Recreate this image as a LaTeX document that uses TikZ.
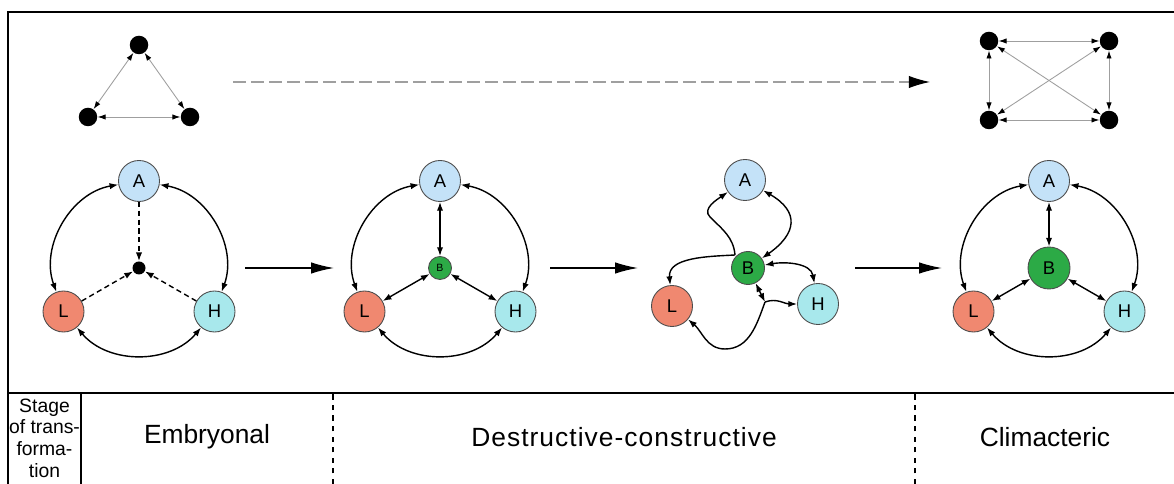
\documentclass[tikz,border=0pt]{standalone}
\usepackage{fontspec}
\setmainfont{Liberation Sans}
\usetikzlibrary{arrows.meta}
\usetikzlibrary{positioning}

\definecolor{acolor}{RGB}{196,226,248}
\definecolor{lcolor}{RGB}{240,136,112}
\definecolor{hcolor}{RGB}{168,232,236}
\definecolor{bcolor}{RGB}{44,170,70}

\begin{document}
\begin{tikzpicture}[>={Latex[length=5pt,width=3.6pt]},
	dot/.style={circle,fill=black,inner sep=0pt,minimum size=0.37cm},
	thin edge/.style={{Latex[length=4.5pt,width=3pt,color=black]}-{Latex[length=4.5pt,width=3pt,color=black]},draw=gray!75,line width=0.5pt},
	vertex/.style={circle,draw=gray!60!black,line width=0.5pt,minimum size=0.82cm,inner sep=0pt,font=\fontsize{10.5}{12}\selectfont},
	link/.style={<->,line width=0.8pt},
	stage arrow/.style={-{Latex[length=13pt,width=6.5pt]},line width=0.8pt},
	stage name/.style={font=\fontsize{15}{17}\selectfont}]

	% fix picture size
	\useasboundingbox (0,0) rectangle (23.48,9.68);

	% draw frame and table
	\draw[line width=1pt] (0.16,0) -- (0.16,9.44) -- (23.48,9.44);
	\draw[line width=0.8pt] (0.16,1.82) -- (23.48,1.82);
	\draw[line width=0.8pt] (1.62,0) -- (1.62,1.82);
	\draw[dashed,line width=0.6pt] (6.66,0) -- (6.66,1.82);
	\draw[dashed,line width=0.6pt] (18.3,0) -- (18.3,1.82);

	% draw table texts
	\node[align=center,font=\fontsize{11}{12.3}\selectfont] (stage) at (0.89,0.92) {Stage\\of trans-\\forma-\\tion};
	\node[stage name] (embryonal) at (4.14,0.94) {Embryonal};
	\node[stage name] (destructive) at (12.48,0.94) {\addfontfeature{LetterSpace=4}Destructive-constructive};
	\node[stage name] (climacteric) at (20.9,0.94) {Climacteric};

	% draw small triangle
	\node[dot] (t1) at (2.78,8.78) {};
	\node[dot] (t2) at (1.76,7.34) {};
	\node[dot] (t3) at (3.8,7.34) {};
	\draw[thin edge] (t1) -- (t2);
	\draw[thin edge] (t1) -- (t3);
	\draw[thin edge] (t2) -- (t3);

	% draw small square
	\node[dot] (q1) at (19.78,8.86) {};
	\node[dot] (q2) at (22.18,8.86) {};
	\node[dot] (q3) at (19.78,7.28) {};
	\node[dot] (q4) at (22.18,7.28) {};
	\foreach \a/\b in {q1/q2,q1/q3,q1/q4,q2/q3,q2/q4,q3/q4}
	{
		\draw[thin edge] (\a) -- (\b);
	}

	% draw dashed arrow from triangle to square
	\coordinate (dstart) at (4.66,8.04);
	\coordinate (dend) at (18.6,8.04);
	\draw[draw=gray!75,line width=0.6pt,dash pattern=on 0.26cm off 0.1cm,-{Latex[length=12pt,width=7pt,color=black]}] (dstart) -- (dend);

	% draw the three symmetric graphs
	\foreach \g/\cx in {1/2.78,2/8.8,4/20.98}
	{
		\node[vertex,fill=acolor] (A\g) at (\cx,6.06) {A};
		\node[vertex,fill=lcolor] (L\g) at (\cx-1.51,3.45) {L};
		\node[vertex,fill=hcolor] (H\g) at (\cx+1.51,3.45) {H};
		\draw[link] (A\g) to[bend right=50,looseness=1.0] (L\g);
		\draw[link] (L\g) to[bend right=50,looseness=1.0] (H\g);
		\draw[link] (H\g) to[bend right=50,looseness=1.0] (A\g);
	}

	% embryonal centre
	\node[circle,fill=black,inner sep=0pt,minimum size=0.26cm] (c1) at (2.78,4.32) {};
	\foreach \v in {A1,L1,H1}
	{
		\draw[->,line width=0.8pt,dash pattern=on 3pt off 2pt] (\v) -- (c1);
	}

	% small B
	\node[vertex,fill=bcolor,minimum size=0.46cm,font=\fontsize{6}{7}\selectfont] (B2) at (8.8,4.32) {B};
	\foreach \v in {A2,L2,H2}
	{
		\draw[link] (\v) -- (B2);
	}

	% big B
	\node[vertex,fill=bcolor,minimum size=0.84cm] (B4) at (20.98,4.32) {B};
	\foreach \v in {A4,L4,H4}
	{
		\draw[link] (\v) -- (B4);
	}

	% destructive graph
	\node[vertex,fill=acolor] (A3) at (14.9,6.08) {A};
	\node[vertex,fill=bcolor,minimum size=0.66cm] (B3) at (14.96,4.32) {B};
	\node[vertex,fill=lcolor] (L3) at (13.44,3.56) {L};
	\node[vertex,fill=hcolor] (H3) at (16.36,3.6) {H};
	\coordinate (j1) at (14.7,4.58);
	\coordinate (j2) at (15.3,3.64);
	\draw[->,line width=0.8pt] (j1) to[out=95,in=-45] (14.2,5.34) to[out=135,in=215] (A3);
	\draw[->,line width=0.8pt] (j1) to[out=183,in=95] (L3);
	\draw[link] (A3) to[out=-30,in=35,looseness=1.6] (B3);
	\draw[link] (B3) to[out=10,in=100] (H3);
	\draw[link] (B3) -- (j2);
	\draw[->,line width=0.8pt] (j2) to[out=20,in=180] (H3);
	\draw[->,line width=0.8pt] (j2) to[out=250,in=0] (14.5,2.7) to[out=180,in=-40] (L3);

	% draw arrows between stages
	\coordinate (s1) at (4.9,4.32);
	\coordinate (e1) at (6.68,4.32);
	\coordinate (s2) at (11.0,4.32);
	\coordinate (e2) at (12.76,4.32);
	\coordinate (s3) at (17.1,4.32);
	\coordinate (e3) at (18.84,4.32);
	\draw[stage arrow] (s1) -- (e1);
	\draw[stage arrow] (s2) -- (e2);
	\draw[stage arrow] (s3) -- (e3);
\end{tikzpicture}
\end{document}
